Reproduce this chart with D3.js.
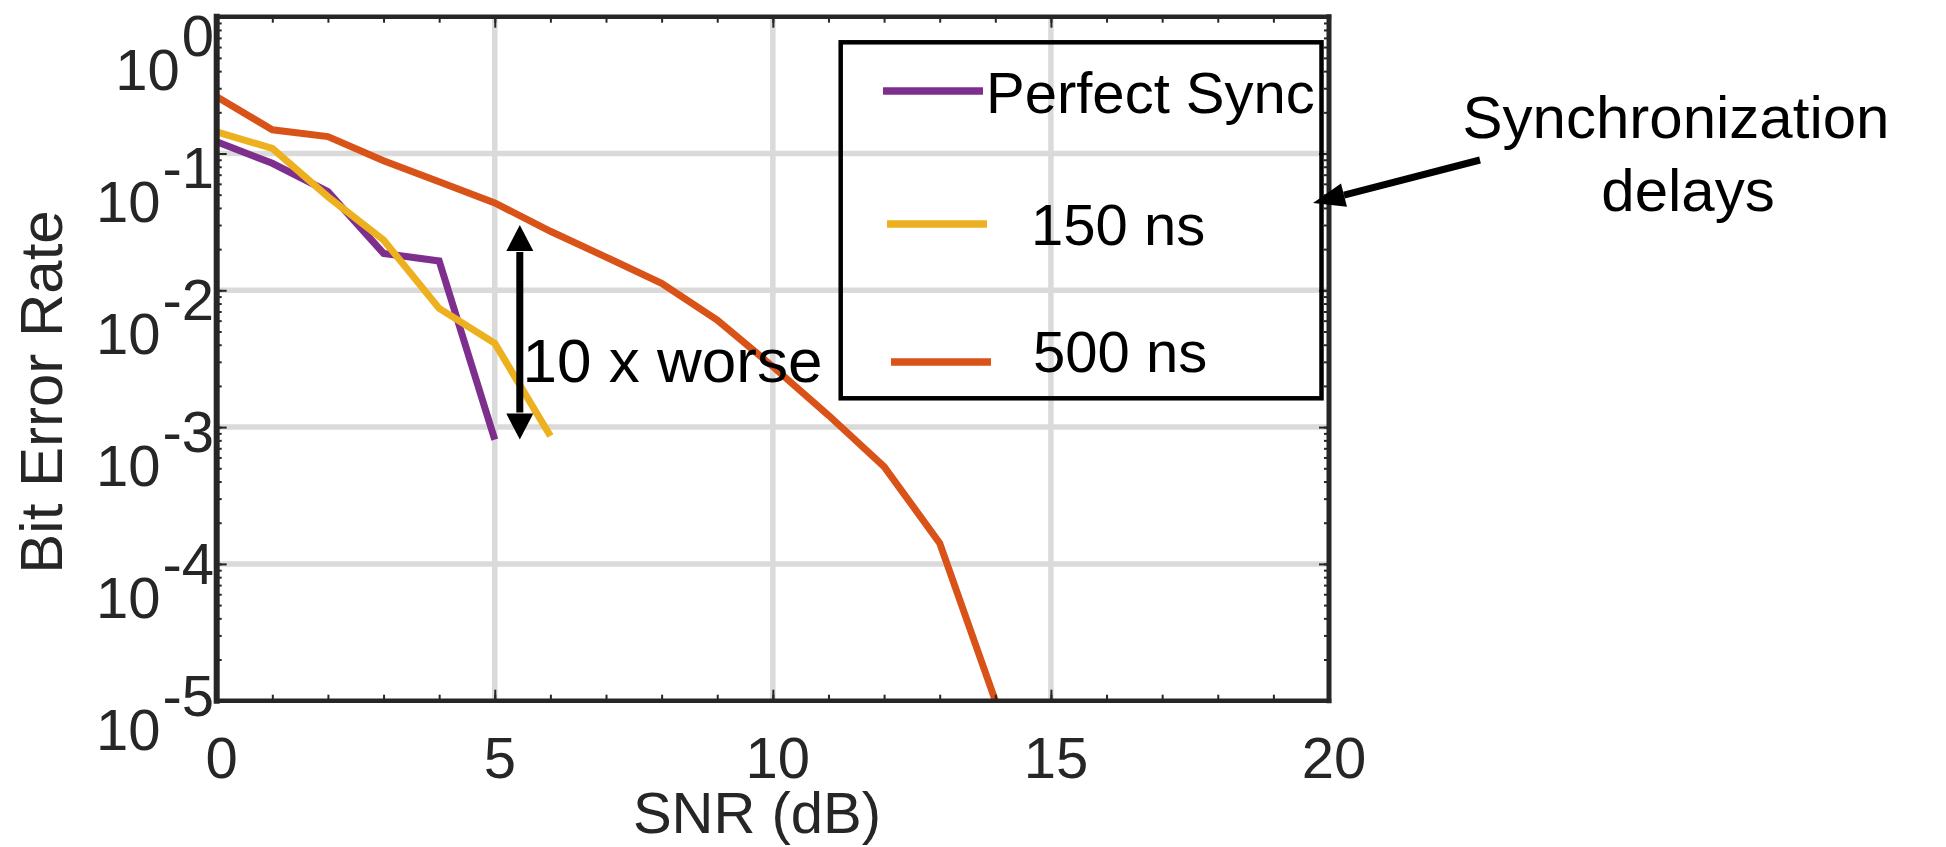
<!DOCTYPE html>
<html>
<head>
<meta charset="utf-8">
<script src="https://cdn.jsdelivr.net/npm/d3@7/dist/d3.min.js"></script>
<style>
	body { margin:0; background:#fff; }
	svg text { font-family: "Liberation Sans", Arial, sans-serif; }
</style>
</head>
<body>
<svg id="chart"></svg>
<script>
// SNR points (dB)
var snr = [0,1,2,3,4,5,6,7,8,9,10,11,12,13,14];

// bit error rate per series
var perfectSync = [0.122, 0.0848, 0.0526, 0.0186, 0.0164, 0.00081];
var delay150 = [0.144, 0.109, 0.0483, 0.0233, 0.00738, 0.0041, 0.00086];
var delay500 = [0.26, 0.149, 0.133, 0.0886, 0.0622, 0.0435, 0.027, 0.0175, 0.01125, 0.00607, 0.00277, 0.00122, 0.000514, 0.000142, 0.00001];

var seriesNames = ["Perfect Sync", "150 ns", "500 ns"];
var seriesColors = ["#7E2F8E", "#EDB120", "#D95319"];

var xTicks = [0, 5, 10, 15, 20];
var xMinorTicks = d3.range(0, 21, 1);
var yExponents = [0, -1, -2, -3, -4, -5];

var xLabel = "SNR (dB)";
var yLabel = "Bit Error Rate";

// annotation: "10 x worse" arrow, in data units
var worseArrow = {x: 5.45, top: 0.030, bottom: 0.00081, textX: 5.5, textY: 0.00215};

var width = 1946, height = 847;
var plot = {left: 216.7, right: 1329, top: 16.7, bottom: 700.7};

var svg = d3.select("#chart")
	.attr("width", width)
	.attr("height", height);

var x = d3.scaleLinear().domain([0, 20]).range([plot.left, plot.right]);
var y = d3.scaleLog().domain([1e-5, 1]).range([plot.bottom, plot.top]);
// tick labels in the figure drift a bit from their ticks, so they get their own scale
var yLab = d3.scaleLog().domain([1e-5, 1]).range([750, 90]);

var axisColor = "#262626";

///////////
// GRID  //
///////////
var grid = svg.append("g").attr("class", "grid")
	.attr("stroke", "#dadada")
	.attr("stroke-width", 5.5);

grid.selectAll("line.v")
	.data(xTicks.slice(1, -1))
	.enter().append("line")
	.attr("class", "v")
	.attr("x1", function(d){ return x(d); })
	.attr("x2", function(d){ return x(d); })
	.attr("y1", plot.top)
	.attr("y2", plot.bottom);

grid.selectAll("line.h")
	.data(yExponents.slice(1, -1))
	.enter().append("line")
	.attr("class", "h")
	.attr("x1", plot.left)
	.attr("x2", plot.right)
	.attr("y1", function(d){ return y(Math.pow(10, d)); })
	.attr("y2", function(d){ return y(Math.pow(10, d)); });

///////////
// LINES //
///////////
var series = [perfectSync, delay150, delay500];
var line = d3.line()
	.x(function(d, i){ return x(snr[i]); })
	.y(function(d){ return y(d); });

svg.append("g").attr("class", "series")
	.selectAll("path")
	.data(series)
	.enter().append("path")
	.attr("d", line)
	.attr("fill", "none")
	.attr("stroke", function(d, i){ return seriesColors[i]; })
	.attr("stroke-width", 7)
	.attr("stroke-linejoin", "miter");

///////////
// AXES  //
///////////
var yMinor = y.ticks();
var yMajor = yExponents.map(function(e){ return Math.pow(10, e); });

function tickStyle(g){
	g.select(".domain").remove();
	g.selectAll(".tick line").attr("stroke", axisColor).attr("stroke-width", 2);
}

// ticks point inward on all four sides
svg.append("g").attr("transform", "translate(" + plot.left + ",0)")
	.call(d3.axisRight(y).tickValues(yMinor).tickSize(5).tickFormat("")).call(tickStyle);
svg.append("g").attr("transform", "translate(" + plot.left + ",0)")
	.call(d3.axisRight(y).tickValues(yMajor).tickSize(10).tickFormat("")).call(tickStyle);
svg.append("g").attr("transform", "translate(" + plot.right + ",0)")
	.call(d3.axisLeft(y).tickValues(yMinor).tickSize(5).tickFormat("")).call(tickStyle);
svg.append("g").attr("transform", "translate(" + plot.right + ",0)")
	.call(d3.axisLeft(y).tickValues(yMajor).tickSize(10).tickFormat("")).call(tickStyle);

svg.append("g").attr("transform", "translate(0," + plot.bottom + ")")
	.call(d3.axisTop(x).tickValues(xMinorTicks).tickSize(6).tickFormat("")).call(tickStyle);
svg.append("g").attr("transform", "translate(0," + plot.bottom + ")")
	.call(d3.axisTop(x).tickValues(xTicks).tickSize(11).tickFormat("")).call(tickStyle);
svg.append("g").attr("transform", "translate(0," + plot.top + ")")
	.call(d3.axisBottom(x).tickValues(xMinorTicks).tickSize(6).tickFormat("")).call(tickStyle);
svg.append("g").attr("transform", "translate(0," + plot.top + ")")
	.call(d3.axisBottom(x).tickValues(xTicks).tickSize(11).tickFormat("")).call(tickStyle);

// frame
var frame = svg.append("g").attr("stroke", axisColor).attr("stroke-linecap", "square");
frame.append("line").attr("x1", plot.left).attr("x2", plot.left).attr("y1", plot.top).attr("y2", plot.bottom).attr("stroke-width", 6);
frame.append("line").attr("x1", plot.right).attr("x2", plot.right).attr("y1", plot.top).attr("y2", plot.bottom).attr("stroke-width", 5);
frame.append("line").attr("x1", plot.left).attr("x2", plot.right).attr("y1", plot.top).attr("y2", plot.top).attr("stroke-width", 4.5);
frame.append("line").attr("x1", plot.left).attr("x2", plot.right).attr("y1", plot.bottom).attr("y2", plot.bottom).attr("stroke-width", 4.5);

// tick labels
svg.append("g").selectAll("text")
	.data(xTicks)
	.enter().append("text")
	.attr("x", function(d){ return x(d) + 5; })
	.attr("y", 778)
	.attr("text-anchor", "middle")
	.attr("font-size", 58)
	.attr("fill", axisColor)
	.text(function(d){ return d; });

var yTickText = svg.append("g").selectAll("text")
	.data(yExponents)
	.enter().append("text")
	.attr("x", 214)
	.attr("y", function(d){ return yLab(Math.pow(10, d)); })
	.attr("text-anchor", "end")
	.attr("font-size", 58)
	.attr("fill", axisColor);
yTickText.append("tspan").text("10");
yTickText.append("tspan")
	.attr("dx", 2)
	.attr("dy", -34)
	.text(function(d){ return String(d); });

// axis titles
svg.append("text")
	.attr("x", 757)
	.attr("y", 833)
	.attr("text-anchor", "middle")
	.attr("font-size", 58)
	.attr("fill", axisColor)
	.text(xLabel);

svg.append("text")
	.attr("transform", "translate(62,392) rotate(-90)")
	.attr("text-anchor", "middle")
	.attr("font-size", 60)
	.attr("fill", axisColor)
	.text(yLabel);

////////////
// LEGEND //
////////////
var legend = svg.append("g").attr("class", "legend");
legend.append("rect")
	.attr("x", 840.7)
	.attr("y", 42.3)
	.attr("width", 1321.5 - 840.7)
	.attr("height", 398.3 - 42.3)
	.attr("fill", "none")
	.attr("stroke", "#000")
	.attr("stroke-width", 4.5);

var legendLineY = [91, 224, 362];
var legendLineX = [883, 887, 891];
var legendTextX = [986, 1031, 1033];
var legendTextY = [113, 245, 372];

var rows = legend.selectAll("g.row")
	.data(seriesNames)
	.enter().append("g")
	.attr("class", "row");
rows.append("line")
	.attr("x1", function(d, i){ return legendLineX[i]; })
	.attr("x2", function(d, i){ return legendLineX[i] + 100; })
	.attr("y1", function(d, i){ return legendLineY[i]; })
	.attr("y2", function(d, i){ return legendLineY[i]; })
	.attr("stroke", function(d, i){ return seriesColors[i]; })
	.attr("stroke-width", 7.5);
rows.append("text")
	.attr("x", function(d, i){ return legendTextX[i]; })
	.attr("y", function(d, i){ return legendTextY[i]; })
	.attr("font-size", 58)
	.attr("fill", "#000")
	.text(function(d){ return d; });

/////////////////
// ANNOTATIONS //
/////////////////
function arrowHead(g, fromX, fromY, tipX, tipY, len, half){
	var a = Math.atan2(tipY - fromY, tipX - fromX);
	var bx = tipX - len * Math.cos(a), by = tipY - len * Math.sin(a);
	var nx = -Math.sin(a) * half, ny = Math.cos(a) * half;
	g.append("path")
		.attr("d", "M" + tipX + "," + tipY + "L" + (bx + nx) + "," + (by + ny) + "L" + (bx - nx) + "," + (by - ny) + "Z")
		.attr("fill", "#000");
	return [bx, by];
}

var notes = svg.append("g").attr("class", "notes");

// 10 x worse double arrow
var ax = x(worseArrow.x), aTop = y(worseArrow.top), aBot = y(worseArrow.bottom);
var b1 = arrowHead(notes, ax, aBot, ax, aTop, 26, 13.5);
var b2 = arrowHead(notes, ax, aTop, ax, aBot, 26, 13.5);
notes.append("line")
	.attr("x1", ax).attr("x2", ax)
	.attr("y1", b1[1] + 1).attr("y2", b2[1] - 1)
	.attr("stroke", "#000")
	.attr("stroke-width", 7);
notes.append("text")
	.attr("x", x(worseArrow.textX))
	.attr("y", y(worseArrow.textY))
	.attr("font-size", 62)
	.attr("fill", "#000")
	.text("10 x worse");

// synchronization delays arrow
var tail = [1480, 160], tip = [1313, 203];
var b3 = arrowHead(notes, tail[0], tail[1], tip[0], tip[1], 32, 12);
notes.append("line")
	.attr("x1", tail[0]).attr("y1", tail[1])
	.attr("x2", b3[0]).attr("y2", b3[1])
	.attr("stroke", "#000")
	.attr("stroke-width", 7);
notes.append("text")
	.attr("x", 1676)
	.attr("y", 138)
	.attr("text-anchor", "middle")
	.attr("font-size", 60)
	.attr("fill", "#000")
	.text("Synchronization");
notes.append("text")
	.attr("x", 1688)
	.attr("y", 211)
	.attr("text-anchor", "middle")
	.attr("font-size", 60)
	.attr("fill", "#000")
	.text("delays");
</script>
</body>
</html>
